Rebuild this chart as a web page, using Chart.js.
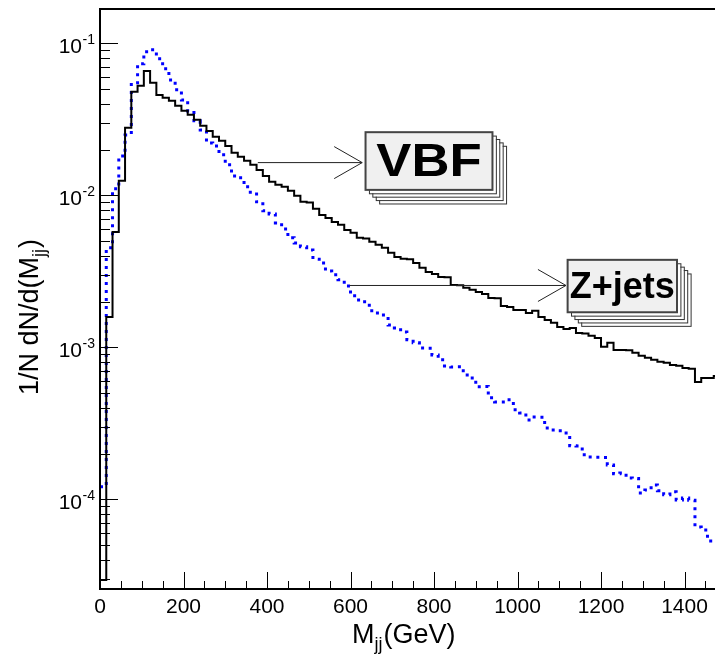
<!DOCTYPE html>
<html>
<head>
<meta charset="utf-8">
<script src="https://cdn.jsdelivr.net/npm/chart.js@4.4.1/dist/chart.umd.min.js"></script>
<style>
    html, body { margin: 0; padding: 0; background: #fff; overflow: hidden; }
    #wrap { width: 715px; height: 663px; }
</style>
</head>
<body>
<div id="wrap"><canvas id="mjj" width="715" height="663"></canvas></div>
<script>
    // histogram binning (GeV)
    var binWidth = 15;
    var xMin = 0, xMax = 1473;
    var yMin = 2.57e-5, yMax = 0.168;
    var xTickLabels = [0, 200, 400, 600, 800, 1000, 1200, 1400];
    var yDecades = [-4, -3, -2, -1];

    // 1/N dN/dM_jj, one value per 15 GeV bin
    var vbf = [2.95e-5, 1.58e-3, 5.74e-3, 0.01244, 0.02776, 0.0479, 0.05245, 0.0658, 0.0549, 0.04575,
        0.04373, 0.0418, 0.03876, 0.03592, 0.0338, 0.03133, 0.02861, 0.02652, 0.02422, 0.0228,
        0.02113, 0.01901, 0.01789, 0.01684, 0.01585, 0.01469, 0.01341, 0.01225, 0.01171, 0.01136,
        0.01069, 0.00991, 0.00905, 0.00895, 0.00814, 0.00743, 0.0071, 0.00668, 0.00639, 0.00592,
        0.00566, 0.00525, 0.0052, 0.00494, 0.00472, 0.00451, 0.00418, 0.00393, 0.00382, 0.0038,
        0.00359, 0.00333, 0.00313, 0.00304, 0.0029, 0.00289, 0.00257, 0.00256, 0.00246, 0.00239,
        0.00231, 0.00224, 0.00211, 0.0021, 0.00187, 0.00184, 0.00176, 0.00176, 0.00168, 0.00174,
        0.00158, 0.00151, 0.00145, 0.00136, 0.00132, 0.00134, 0.00124, 0.00123, 0.00119, 0.00115,
        0.00101, 0.00107, 0.000961, 0.000958, 0.000955, 0.000919, 0.000878, 0.000852, 0.000827, 0.000802,
        0.00079, 0.000766, 0.000755, 0.000732, 0.000722, 0.000592, 0.000629, 0.000627, 0.000648];

    var zjets = [1.21e-4, 4.51e-3, 0.01102, 0.01816, 0.02496, 0.0549, 0.0732, 0.0878, 0.0905, 0.079,
        0.0679, 0.0574, 0.0494, 0.0424, 0.0359, 0.0309, 0.0269, 0.0221, 0.0211, 0.01845,
        0.01585, 0.01341, 0.01302, 0.01136, 0.01021, 0.00905, 0.0079, 0.00754, 0.00658, 0.00601,
        0.00525, 0.00486, 0.00458, 0.00437, 0.0038, 0.00359, 0.00318, 0.003, 0.00278, 0.00253,
        0.00218, 0.00205, 0.00199, 0.00174, 0.00168, 0.00163, 0.0014, 0.00134, 0.00126, 0.00112,
        0.00107, 0.000991, 0.000985, 0.000891, 0.000827, 0.000754, 0.000743, 0.000745, 0.000658, 0.000629,
        0.000549, 0.000552, 0.000465, 0.000437, 0.000436, 0.000451, 0.000388, 0.00037, 0.000333, 0.000348,
        0.000347, 0.000295, 0.000286, 0.000282, 0.000273, 0.000225, 0.000224, 0.000196, 0.00019, 0.000189,
        0.000188, 0.000168, 0.000147, 0.000149, 0.000138, 0.000137, 0.00011, 0.000115, 0.000124, 0.000114,
        0.000107, 0.000112, 0.0000991, 0.000102, 0.0000985, 0.0000658, 0.0000629, 0.0000532, 0.000054];

    // labels with arrows, in data coordinates
    var labels = [
        {text: 'VBF', size: 47, stretch: 1.12, from: [378, 0.0164], tip: [628, 0.0164], box: [636, 940, 0.026, 0.01085]},
        {text: 'Z+jets', size: 36, stretch: 1, from: [598, 0.00255], tip: [1116, 0.00255], box: [1120, 1382, 0.00376, 0.0017]}
    ];

    var FONT = '"Liberation Sans", Arial, Helvetica, sans-serif';

    function toSteps(values) {
        var pts = values.map(function (v, i) {
            return {x: i * binWidth, y: v};
        });
        pts.push({x: values.length * binWidth, y: values[values.length - 1]});
        return pts;
    }

    function line(ctx, x1, y1, x2, y2) {
        ctx.beginPath();
        ctx.moveTo(x1, y1);
        ctx.lineTo(x2, y2);
        ctx.stroke();
    }

    // ROOT style frame with inward ticks
    var rootAxes = {
        id: 'rootAxes',
        afterDatasetsDraw: function (chart) {
            var ctx = chart.ctx, a = chart.chartArea;
            var xs = chart.scales.x, ys = chart.scales.y;
            ctx.save();
            ctx.strokeStyle = '#000';
            ctx.lineWidth = 1;
            for (var v = 0; v <= xMax; v += 50) {
                var px = Math.round(xs.getPixelForValue(v)) + 0.5;
                line(ctx, px, a.bottom, px, a.bottom - (v % 200 === 0 ? 17 : 8));
            }
            for (var d = -5; d <= -1; d++) {
                for (var k = 1; k <= 9; k++) {
                    var val = k * Math.pow(10, d);
                    if (val < yMin || val > yMax) continue;
                    var py = Math.round(ys.getPixelForValue(val)) + 0.5;
                    line(ctx, a.left, py, a.left + (k === 1 ? 18 : 10), py);
                }
            }
            ctx.lineWidth = 2;
            ctx.beginPath();
            ctx.moveTo(a.right + 2, a.top);
            ctx.lineTo(a.left, a.top);
            ctx.lineTo(a.left, a.bottom);
            ctx.lineTo(a.right + 2, a.bottom);
            ctx.stroke();
            ctx.restore();
        },
        afterDraw: function (chart) {
            var ctx = chart.ctx, a = chart.chartArea;
            var xs = chart.scales.x, ys = chart.scales.y;
            ctx.save();
            ctx.fillStyle = '#000';
            ctx.textBaseline = 'alphabetic';

            // x tick labels
            ctx.font = '21px ' + FONT;
            ctx.textAlign = 'center';
            xTickLabels.forEach(function (t) {
                ctx.fillText(String(t), xs.getPixelForValue(t), 613);
            });

            // y tick labels 10^n
            yDecades.forEach(function (d) {
                var py = ys.getPixelForValue(Math.pow(10, d));
                ctx.font = '21px ' + FONT;
                ctx.textAlign = 'right';
                ctx.fillText('10', 82, py + 10);
                ctx.font = '14px ' + FONT;
                ctx.textAlign = 'left';
                ctx.fillText(String(d), 82.5, py + 1);
            });

            // x title
            ctx.textAlign = 'left';
            var x0 = 352;
            ctx.font = '27px ' + FONT;
            ctx.fillText('M', x0, 643);
            x0 += ctx.measureText('M').width;
            ctx.font = '18px ' + FONT;
            ctx.fillText('jj', x0, 650);
            x0 += ctx.measureText('jj').width + 1;
            ctx.font = '27px ' + FONT;
            ctx.fillText('(GeV)', x0, 643);

            // y title
            ctx.translate(38, 395);
            ctx.rotate(-Math.PI / 2);
            var y0 = 0;
            ctx.font = '27px ' + FONT;
            ctx.fillText('1/N dN/d(M', y0, 0);
            y0 += ctx.measureText('1/N dN/d(M').width;
            ctx.font = '18px ' + FONT;
            ctx.fillText('jj', y0, 7);
            y0 += ctx.measureText('jj').width + 1;
            ctx.font = '27px ' + FONT;
            ctx.fillText(')', y0, 0);
            ctx.restore();

            // arrows and stacked label boxes
            labels.forEach(function (l) {
                var fx = xs.getPixelForValue(l.from[0]), fy = ys.getPixelForValue(l.from[1]);
                var tx = xs.getPixelForValue(l.tip[0]), ty = ys.getPixelForValue(l.tip[1]);
                ctx.save();
                ctx.strokeStyle = '#222';
                ctx.lineWidth = 1;
                line(ctx, fx, fy, tx, ty);
                line(ctx, tx - 28, ty - 16, tx, ty);
                line(ctx, tx - 28, ty + 16, tx, ty);

                var bx1 = xs.getPixelForValue(l.box[0]), bx2 = xs.getPixelForValue(l.box[1]);
                var by1 = ys.getPixelForValue(l.box[2]), by2 = ys.getPixelForValue(l.box[3]);
                var w = bx2 - bx1, h = by2 - by1;
                for (var i = 4; i >= 1; i--) {
                    var off = i * 3.4;
                    ctx.fillStyle = '#fff';
                    ctx.fillRect(bx1 + off, by1 + off, w, h);
                    ctx.strokeStyle = '#333';
                    ctx.lineWidth = 1;
                    ctx.strokeRect(bx1 + off + 0.5, by1 + off + 0.5, w, h);
                }
                ctx.fillStyle = '#f0f0f0';
                ctx.fillRect(bx1, by1, w, h);
                ctx.strokeStyle = '#444';
                ctx.lineWidth = 2;
                ctx.strokeRect(bx1, by1, w, h);

                ctx.fillStyle = '#000';
                ctx.font = 'bold ' + l.size + 'px ' + FONT;
                ctx.textAlign = 'center';
                ctx.textBaseline = 'middle';
                ctx.translate(bx1 + w / 2, by1 + h / 2 + 2);
                ctx.scale(l.stretch, 1);
                ctx.fillText(l.text, 0, 0);
                ctx.restore();
            });
        }
    };

    var chart = new Chart(document.getElementById('mjj').getContext('2d'), {
        type: 'line',
        data: {
            datasets: [{
                label: 'VBF',
                data: toSteps(vbf),
                borderColor: '#000',
                borderWidth: 2,
                stepped: 'before',
                pointRadius: 0,
                fill: false
            }, {
                label: 'Z+jets',
                data: toSteps(zjets),
                borderColor: '#0000ff',
                borderWidth: 3,
                borderDash: [3, 5],
                stepped: 'before',
                pointRadius: 0,
                fill: false
            }]
        },
        options: {
            responsive: false,
            animation: false,
            devicePixelRatio: 1,
            layout: {padding: {top: 9, left: 0, right: 0, bottom: 0}},
            plugins: {
                legend: {display: false},
                tooltip: {enabled: false}
            },
            scales: {
                x: {
                    type: 'linear', min: xMin, max: xMax,
                    grid: {display: false}, border: {display: false},
                    ticks: {display: false},
                    afterFit: function (scale) { scale.height = 74; }
                },
                y: {
                    type: 'logarithmic', min: yMin, max: yMax,
                    grid: {display: false}, border: {display: false},
                    ticks: {display: false},
                    afterFit: function (scale) { scale.width = 100; }
                }
            }
        },
        plugins: [rootAxes]
    });
</script>
</body>
</html>
